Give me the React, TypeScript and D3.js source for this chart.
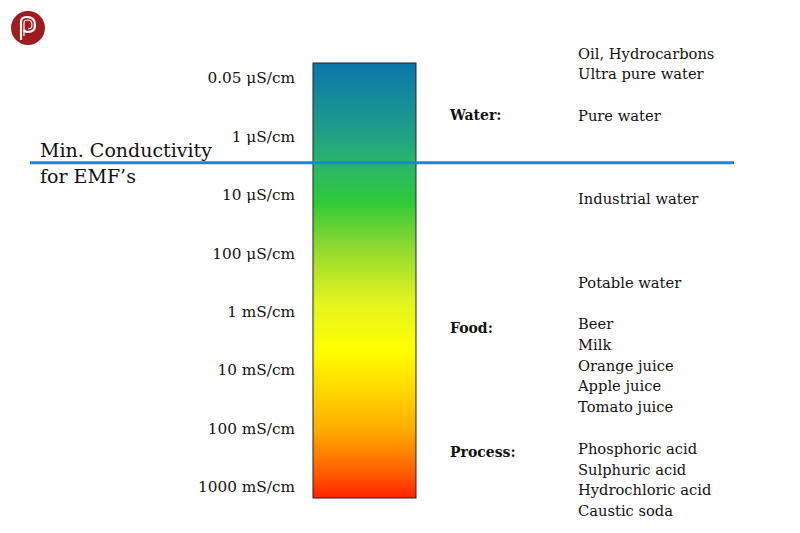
import React from "react";
import * as d3 from "d3";

const tickLabels = ["0.05 μS/cm", "1 μS/cm", "10 μS/cm", "100 μS/cm", "1 mS/cm", "10 mS/cm", "100 mS/cm", "1000 mS/cm"];
const thresholdPos = 1.45; // in tick-index units
const groupNames = ["Water:", "Food:", "Process:"];
const groupPos = [0.64, 4.28, 6.41];
const itemNames = ["Oil, Hydrocarbons", "Ultra pure water", "Pure water", "Industrial water", "Potable water", "Beer", "Milk", "Orange juice", "Apple juice", "Tomato juice", "Phosphoric acid", "Sulphuric acid", "Hydrochloric acid", "Caustic soda"];
const itemPos = [-0.41, -0.07, 0.65, 2.07, 3.51, 4.21, 4.57, 4.93, 5.27, 5.63, 6.35, 6.71, 7.05, 7.41];
const gradStops = [
  { o: 0, c: "#0a77aa" },
  { o: 0.15, c: "#1f9c8a" },
  { o: 0.23, c: "#29b56a" },
  { o: 0.32, c: "#30c93a" },
  { o: 0.42, c: "#8cd830" },
  { o: 0.55, c: "#e4f420" },
  { o: 0.66, c: "#ffff00" },
  { o: 0.75, c: "#ffd800" },
  { o: 0.84, c: "#ffae00" },
  { o: 0.94, c: "#ff6000" },
  { o: 1, c: "#ff2200" },
];

export default function App() {
  const W = 800, H = 533;
  const y = d3.scaleLinear().domain([0, tickLabels.length - 1]).range([78, 487]);
  const barX = 313, barW = 103, barTop = 63, barBot = 498;
  const font = "'DejaVu Serif', serif";
  const lineY = y(thresholdPos);
  return (
    <svg width={W} height={H} style={{ position: "absolute", left: 0, top: 0, background: "#fff" }}>
      <defs>
        <linearGradient id="cg" x1="0" y1="0" x2="0" y2="1">
          {gradStops.map((s, i) => (
            <stop key={i} offset={s.o} stopColor={s.c} />
          ))}
        </linearGradient>
      </defs>
      <g>
        <circle cx={28} cy={28} r={17} fill="#9e1b1e" />
        <path d="M21 40 V22 Q21 17 27 17 Q35 17 35 25 Q35 32 28 32 Q25 32 24 30" fill="none" stroke="#fff" strokeWidth={2.2} />
        <path d="M24 36 V23 Q24 20 27.5 20 Q32 20 32 25 Q32 29 28 29" fill="none" stroke="#fff" strokeWidth={1.2} />
      </g>
      <rect x={barX} y={barTop} width={barW} height={barBot - barTop} fill="url(#cg)" stroke="#222" strokeWidth={1} />
      {tickLabels.map((t, i) => (
        <text key={t} x={295} y={y(i)} dy="0.35em" textAnchor="end" fontFamily={font} fontSize={15.3} fill="#111">
          {t}
        </text>
      ))}
      <line x1={30} x2={734} y1={lineY} y2={lineY} stroke="#1a84e6" strokeWidth={3} />
      <text x={40} y={lineY - 6} fontFamily={font} fontSize={19} fill="#111">Min. Conductivity</text>
      <text x={40} y={lineY + 20} fontFamily={font} fontSize={19} fill="#111">for EMF’s</text>
      {groupNames.map((g, i) => (
        <text key={g} x={450} y={y(groupPos[i])} dy="0.35em" fontFamily={font} fontWeight="bold" fontSize={14} fill="#111">
          {g}
        </text>
      ))}
      {itemNames.map((t, i) => (
        <text key={t} x={578} y={y(itemPos[i])} dy="0.35em" fontFamily={font} fontSize={14.7} fill="#111">
          {t}
        </text>
      ))}
    </svg>
  );
}
